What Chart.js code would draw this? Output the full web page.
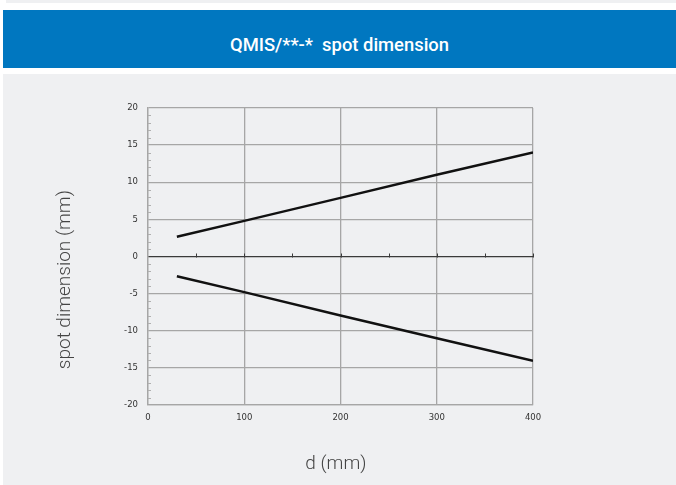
<!DOCTYPE html>
<html>
<head>
<meta charset="utf-8">
<script src="https://cdn.jsdelivr.net/npm/chart.js@4.4.1/dist/chart.umd.min.js"></script>
<style>
  html, body { margin: 0; padding: 0; background: #ffffff; width: 676px; height: 485px; overflow: hidden; }
  #strip { position: absolute; left: 6px; top: 0; width: 670px; height: 3px; background: #eff0f2; }
  #header { position: absolute; left: 3px; top: 10px; width: 673px; height: 58px; background: #0077c0;
            color: #ffffff; font-family: Roboto, "Liberation Sans", sans-serif; font-weight: 500; font-size: 18.4px;
            box-sizing: border-box; padding-top: 24px; line-height: 22px; text-align: center; white-space: pre; }
  #panel { position: absolute; left: 3px; top: 74px; width: 673px; height: 411px; background: #eff0f2; }
  #wrap { position: absolute; left: 0; top: 0; width: 676px; height: 485px; }
</style>
</head>
<body>
<div id="strip"></div>
<div id="header">QMIS/**-*  spot dimension</div>
<div id="panel"></div>
<div id="wrap"><canvas id="c" width="676" height="485"></canvas></div>
<script>
// Data
const distances = [30, 100, 200, 300, 400];            // d (mm)
const upperSpot = [2.65, 4.8, 7.9, 11.0, 14.0];         // + half spot (mm)
const lowerSpot = [-2.65, -4.8, -7.95, -11.0, -14.05];  // - half spot (mm)
const xTickValues = [0, 100, 200, 300, 400];
const yTickValues = [-20, -15, -10, -5, 0, 5, 10, 15, 20];
const xMinorTicks = [50, 100, 150, 200, 250, 300, 350, 400];
const yMinorTicks = [];
for (let v = -19; v <= 19; v++) { if (v % 5 !== 0) yMinorTicks.push(v); }

const toPts = (xs, ys) => xs.map((x, i) => ({x: x, y: ys[i]}));

const tickPlugin = {
  id: 'minorTicks',
  afterDatasetsDraw(chart) {
    const {ctx, scales: {x, y}} = chart;
    ctx.save();
    ctx.strokeStyle = '#3a3a3a';
    ctx.lineWidth = 1;
    const y0 = Math.round(y.getPixelForValue(0)) + 0.5;
    xMinorTicks.forEach(v => {
      const px = Math.round(x.getPixelForValue(v)) + 0.5;
      ctx.beginPath(); ctx.moveTo(px, y0); ctx.lineTo(px, y0 - 4); ctx.stroke();
    });
    ctx.strokeStyle = '#b0b0b0';
    const xl = x.getPixelForValue(0);
    yMinorTicks.forEach(v => {
      const py = Math.round(y.getPixelForValue(v)) + 0.5;
      ctx.beginPath(); ctx.moveTo(xl, py); ctx.lineTo(xl + 3, py); ctx.stroke();
    });
    ctx.restore();
  }
};

const titleFont = { family: 'Roboto, "Liberation Sans", sans-serif', size: 19, weight: 300 };

new Chart(document.getElementById('c'), {
  type: 'scatter',
  data: {
    datasets: [
      { data: toPts(distances, upperSpot), showLine: true, borderColor: '#111111', borderWidth: 2.5, pointRadius: 0, tension: 0 },
      { data: toPts(distances, lowerSpot), showLine: true, borderColor: '#111111', borderWidth: 2.5, pointRadius: 0, tension: 0 }
    ]
  },
  options: {
    responsive: false,
    animation: false,
    events: [],
    layout: { padding: { left: 0, right: 143, top: 108, bottom: 0 } },
    plugins: { legend: { display: false }, tooltip: { enabled: false } },
    scales: {
      x: {
        type: 'linear', min: 0, max: 400,
        afterBuildTicks: s => { s.ticks = xTickValues.map(v => ({value: v})); },
        afterFit: s => { s.height = 80; },
        ticks: { color: '#333333', font: { family: '"DejaVu Sans", Verdana, sans-serif', size: 8.5 }, padding: 8, maxRotation: 0 },
        grid: { color: '#a6a6a6', lineWidth: 1.3, drawTicks: false },
        border: { color: '#a6a6a6', width: 1.3 },
        title: { display: true, text: 'd (mm)  ', color: '#444444', font: titleFont,
                 padding: { top: 0, bottom: 9 } }
      },
      y: {
        type: 'linear', min: -20, max: 20,
        afterBuildTicks: s => { s.ticks = yTickValues.map(v => ({value: v})); },
        afterFit: s => { s.width = 148; },
        ticks: { color: '#333333', font: { family: '"DejaVu Sans", Verdana, sans-serif', size: 8.5 }, padding: 10 },
        grid: { color: ctx => (ctx.tick && ctx.tick.value === 0) ? '#3a3a3a' : '#a6a6a6',
                lineWidth: ctx => (ctx.tick && ctx.tick.value === 0) ? 1.2 : 1.3, drawTicks: false },
        border: { color: '#a6a6a6', width: 1.3 },
        title: { display: true, text: 'spot dimension (mm)          ', color: '#444444', font: titleFont,
                 padding: { top: 54, bottom: 0 } }
      }
    }
  },
  plugins: [tickPlugin]
});
</script>
</body>
</html>
